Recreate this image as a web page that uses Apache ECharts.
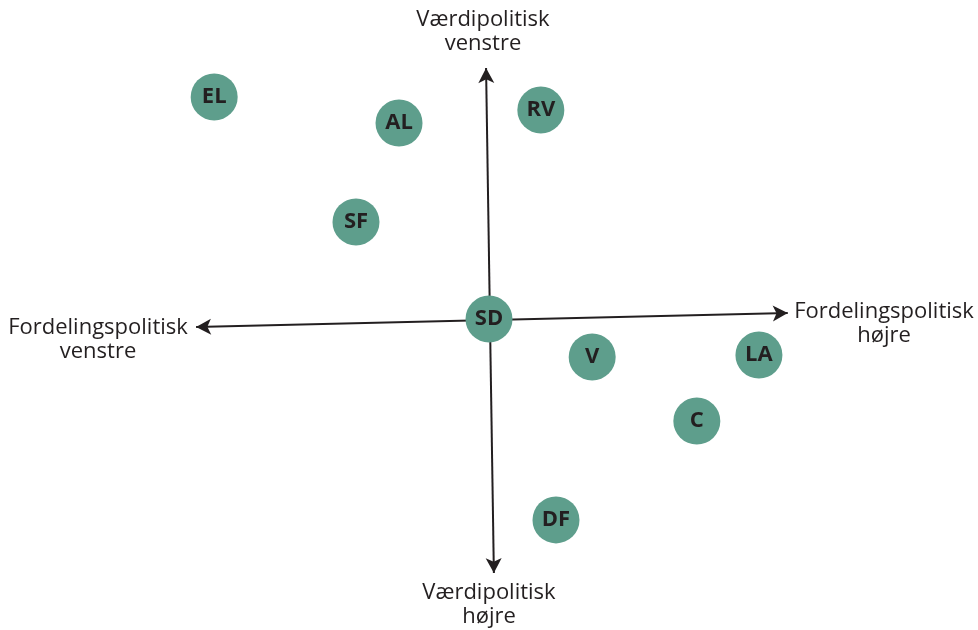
<!DOCTYPE html>
<html>
<head>
<meta charset="utf-8">
<script src="https://cdn.jsdelivr.net/npm/echarts@6/dist/echarts.min.js"></script>
<style>
  html, body { margin: 0; padding: 0; background: #fff; }
  #chart { width: 978px; height: 630px; }
</style>
</head>
<body>
<div id="chart"></div>
<script>
// parties and their positions (x: fordelingspolitik, y: værdipolitik)
const parties = ['EL', 'AL', 'RV', 'SF', 'SD', 'V', 'LA', 'C', 'DF']
const xValues = [-5.62, -1.84, 1.06, -2.72, 0, 2.11, 5.52, 4.25, 1.37]
const yValues = [7.14, 6.30, 6.72, 3.12, 0, -1.22, -1.16, -3.28, -6.46]

// axis arrows, ends in data units (scan is a little tilted)
const horizAxis = [[-5.99, -0.26], [6.11, 0.19]]
const vertAxis = [[0.10, -8.17], [-0.06, 8.07]]

const fontFamily = '"Open Sans", "Noto Sans", sans-serif'
const textColor = '#231f20'
const dotColor = '#5e9e8c'

const chart = echarts.init(document.getElementById('chart'))

const points = parties.map((name, i) => ({ name: name, value: [xValues[i], yValues[i]] }))

// two-line axis caption, x is the centre of the text
function axisText(lines, x, y) {
  return {
    type: 'text',
    x: x,
    y: y,
    style: {
      text: lines,
      font: '22px ' + fontFamily,
      fill: textColor,
      align: 'center',
      verticalAlign: 'top',
      lineHeight: 24
    }
  }
}

chart.setOption({
  animation: false,
  grid: { left: 0, right: 0, top: 8, bottom: 0 },
  xAxis: { type: 'value', min: -10, max: 10, show: false },
  yAxis: { type: 'value', min: -10, max: 10, show: false },
  graphic: [
    axisText('Værdipolitisk\nvenstre', 483, 8),
    axisText('Fordelingspolitisk\nvenstre', 98, 316),
    axisText('Fordelingspolitisk\nhøjre', 884, 300),
    axisText('Værdipolitisk\nhøjre', 489, 581)
  ],
  series: [
    {
      type: 'scatter',
      data: [],
      silent: true,
      markLine: {
        silent: true,
        symbol: ['arrow', 'arrow'],
        symbolSize: [12, 15],
        label: { show: false },
        lineStyle: { color: textColor, width: 2, type: 'solid' },
        data: [
          [{ coord: horizAxis[0] }, { coord: horizAxis[1] }],
          [{ coord: vertAxis[0] }, { coord: vertAxis[1] }]
        ]
      }
    },
    {
      type: 'scatter',
      z: 5,
      symbolSize: 47,
      itemStyle: { color: dotColor, opacity: 1 },
      label: {
        show: true,
        position: 'inside',
        formatter: '{b}',
        color: textColor,
        fontFamily: fontFamily,
        fontWeight: 'bold',
        fontSize: 22
      },
      data: points
    }
  ]
})
</script>
</body>
</html>
